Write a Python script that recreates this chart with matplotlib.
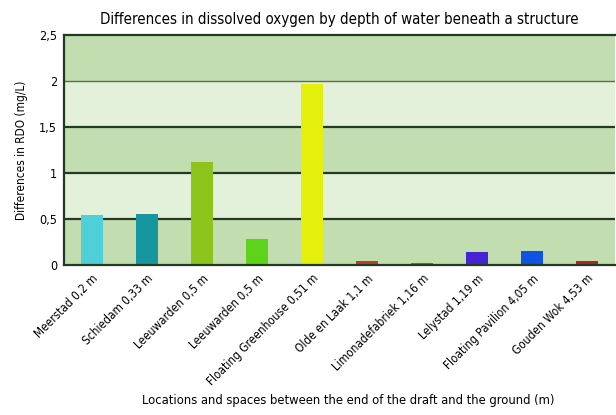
import matplotlib.pyplot as plt
import numpy as np

# ─── DATA ────────────────────────────────────────────────────────────────────
locations = [
    "Meerstad 0,2 m", "Schiedam 0,33 m", "Leeuwarden 0,5 m", "Leeuwarden 0,5 m",
    "Floating Greenhouse 0,51 m", "Olde en Laak 1,1 m", "Limonadefabriek 1,16 m",
    "Lelystad 1,19 m", "Floating Pavilion 4,05 m", "Gouden Wok 4,53 m",
]
rdo_diff = [0.55, 0.56, 1.12, 0.28, 1.97, 0.04, 0.02, 0.14, 0.15, 0.05]
bar_colors = ["#4fd0d8", "#16979f", "#8cc41c", "#5fd21c", "#e4f00c",
              "#b0442e", "#6e6e5e", "#4424d2", "#1252e2", "#b02424"]
y_ticks = [0, 0.5, 1, 1.5, 2, 2.5]
y_tick_labels = ["0", "0,5", "1", "1,5", "2", "2,5"]

plt.rcParams["font.family"] = ["DejaVu Sans"]
plt.rcParams["font.stretch"] = "condensed"

fig = plt.figure(figsize=(6.16, 4.15), dpi=100)
ax = fig.add_axes([0.104, 0.361, 0.894, 0.555])

# alternating background bands
band_dark, band_light = "#c2ddb0", "#e3f0da"
for i in range(len(y_ticks) - 1):
    ax.axhspan(y_ticks[i], y_ticks[i + 1],
               color=band_dark if i % 2 == 0 else band_light, zorder=0, lw=0)
for y in y_ticks[1:-1]:
    # the 2.0 line is drawn thinner / lighter in the original
    if y == 2:
        ax.axhline(y, color="#5c6e52", lw=1.0, zorder=1)
    else:
        ax.axhline(y, color="#223a22", lw=1.6, zorder=1)

x = np.arange(len(locations))
ax.bar(x, rdo_diff, width=0.4, color=bar_colors, zorder=2)

ax.set_xlim(-0.5, len(locations) - 0.5)
ax.set_ylim(0, 2.5)
ax.set_yticks(y_ticks)
ax.set_yticklabels(y_tick_labels, fontsize=9)
ax.set_xticks(x)
ax.set_xticklabels(locations, rotation=45, ha="right", rotation_mode="anchor",
                   fontsize=8.5)
ax.tick_params(length=0, pad=5)

for side in ["left", "bottom", "top"]:
    ax.spines[side].set_color("#223a22")
    ax.spines[side].set_linewidth(1.6)
ax.spines["right"].set_visible(False)

ax.set_title("Differences in dissolved oxygen by depth of water beneath a structure",
             fontsize=10.8, pad=8)
ax.set_ylabel("Differences in RDO (mg/L)", fontsize=8.5, labelpad=8)
fig.text(0.566, 0.02, "Locations and spaces between the end of the draft and the ground (m)",
         ha="center", va="bottom", fontsize=9.3)

plt.savefig("out.png", dpi=100)
plt.close()
